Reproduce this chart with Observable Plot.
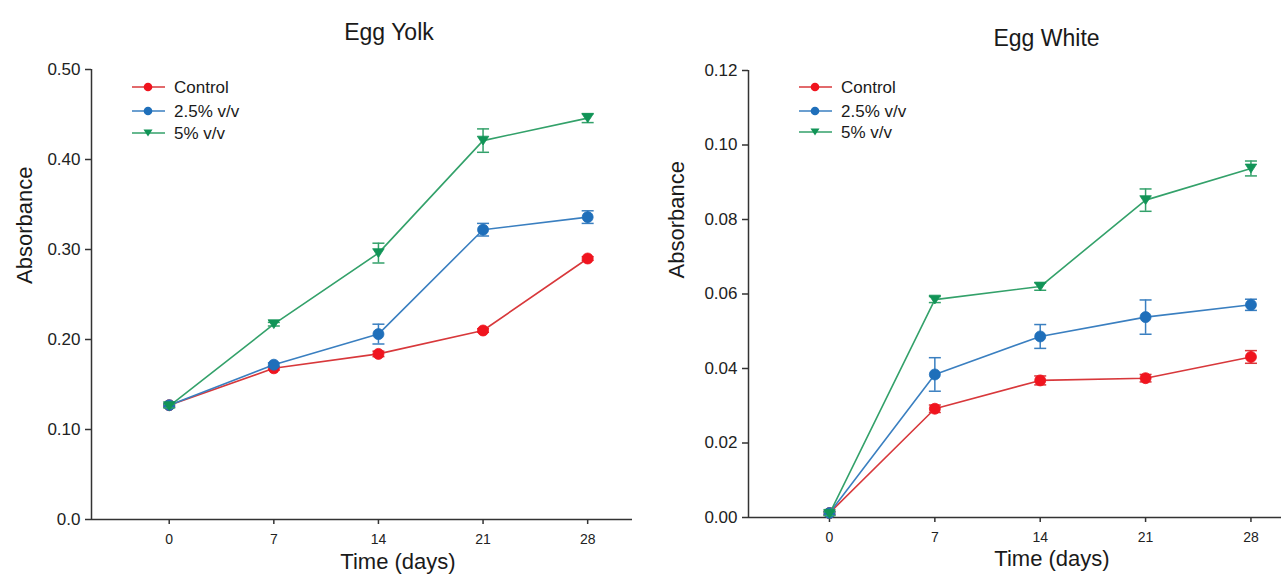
<!DOCTYPE html>
<html><head><meta charset="utf-8">
<script src="https://cdn.jsdelivr.net/npm/d3@7"></script>
<script src="https://cdn.jsdelivr.net/npm/@observablehq/plot@0.6"></script>
<style>
body{margin:0;background:#fff;}
#wrap{position:relative;width:1281px;height:577px;overflow:hidden;font-family:"Liberation Sans",Arial,sans-serif;}
.panel{position:absolute;top:0;}
.legend{position:absolute;top:0;}
</style></head><body><div id="wrap"></div>
<script>
// ---------- data ----------
const days = [0, 7, 14, 21, 28];
const dayLabels = ["0", "7", "14", "21", "28"];
const seriesNames = ["Control", "2.5% v/v", "5% v/v"];
const lineColors = ["#d8383b", "#3a7fc0", "#33a16a"];
const markerColors = ["#f0141e", "#1f6fba", "#119457"];
const markerShapes = ["circle", "circle", "triangleDown"];

// Egg Yolk (absorbance, mean and error)
const yolkControl    = [0.127, 0.168, 0.184, 0.210, 0.290];
const yolkControlErr = [0.002, 0.002, 0.003, 0.002, 0.002];
const yolk25         = [0.127, 0.172, 0.206, 0.322, 0.336];
const yolk25Err      = [0.002, 0.002, 0.011, 0.007, 0.007];
const yolk5          = [0.126, 0.217, 0.296, 0.421, 0.446];
const yolk5Err       = [0.002, 0.002, 0.011, 0.013, 0.005];
const yolkTicks      = [0, 0.1, 0.2, 0.3, 0.4, 0.5];
const yolkTickLabels = ["0.0", "0.10", "0.20", "0.30", "0.40", "0.50"];

// Egg White
const whiteControl    = [0.0012, 0.0292, 0.0368, 0.0374, 0.0431];
const whiteControlErr = [0.0005, 0.0010, 0.0012, 0.0010, 0.0017];
const white25         = [0.0012, 0.0384, 0.0486, 0.0538, 0.0571];
const white25Err      = [0.0005, 0.0045, 0.0032, 0.0046, 0.0015];
const white5          = [0.0010, 0.0585, 0.0620, 0.0852, 0.0937];
const white5Err       = [0.0005, 0.0008, 0.0010, 0.0030, 0.0020];
const whiteTicks      = [0, 0.02, 0.04, 0.06, 0.08, 0.10, 0.12];
const whiteTickLabels = ["0.00", "0.02", "0.04", "0.06", "0.08", "0.10", "0.12"];

// ---------- symbols ----------
const capSymbol = {draw(ctx, size) { ctx.moveTo(-6, 0); ctx.lineTo(6, 0); }};
const triDown = {draw(ctx, size) {
  const r = Math.sqrt(size / Math.PI);
  const w = r * 1.05, h = r * 0.8;
  ctx.moveTo(-w, -h); ctx.lineTo(w, -h); ctx.lineTo(0, h); ctx.closePath();
}};
function sym(name) { return name === "triangleDown" ? triDown : name; }

const FONT = '"Liberation Sans", Arial, sans-serif';
const wrap = document.getElementById("wrap");

function panel(cfg) {
  const marks = [];
  // axis lines
  marks.push(Plot.ruleY([cfg.yDomain[0]], {stroke: "#333", strokeWidth: 1.5}));
  marks.push(Plot.ruleX([cfg.xDomain[0]], {y1: cfg.yDomain[0], y2: cfg.yTicks[cfg.yTicks.length - 1], stroke: "#333", strokeWidth: 1.5}));
  marks.push(Plot.axisY({ticks: cfg.yTicks, tickFormat: d => cfg.yTickLabels[cfg.yTicks.indexOf(d)],
    tickSize: 6, tickPadding: 5, fontSize: 17, label: null, stroke: "#333", strokeWidth: 1.5, fill: "#222"}));
  marks.push(Plot.axisX({ticks: days, tickFormat: d => dayLabels[days.indexOf(d)],
    tickSize: 5, tickPadding: 10, fontSize: 14, label: null, stroke: "#333", strokeWidth: 1.5, fill: "#222"}));

  cfg.series.forEach((vals, s) => {
    const rows = vals.map((v, i) => ({day: days[i], value: v, err: cfg.errs[s][i]}));
    marks.push(Plot.line(rows, {x: "day", y: "value", stroke: lineColors[s], strokeWidth: 1.6}));
    marks.push(Plot.ruleX(rows, {x: "day", y1: d => d.value - d.err, y2: d => d.value + d.err, stroke: lineColors[s], strokeWidth: 1.5}));
    marks.push(Plot.dot(rows, {x: "day", y: d => d.value + d.err, symbol: capSymbol, stroke: lineColors[s], strokeWidth: 1.5, fill: "none", r: 3}));
    marks.push(Plot.dot(rows, {x: "day", y: d => d.value - d.err, symbol: capSymbol, stroke: lineColors[s], strokeWidth: 1.5, fill: "none", r: 3}));
    marks.push(Plot.dot(rows, {x: "day", y: "value", symbol: sym(markerShapes[s]), r: 5.5, fill: markerColors[s], stroke: markerColors[s], strokeWidth: 0.8}));
  });

  marks.push(Plot.text([cfg.title], {frameAnchor: "top", text: d => d, dx: cfg.titleDx, dy: cfg.titleDy, fontSize: 23, fill: "#1a1a1a"}));
  marks.push(Plot.text(["Absorbance"], {frameAnchor: "left", text: d => d, rotate: -90, dx: cfg.yLabelDx, dy: cfg.yLabelDy, fontSize: 22, fill: "#1a1a1a"}));
  marks.push(Plot.text(["Time (days)"], {frameAnchor: "bottom", text: d => d, dx: cfg.xLabelDx, dy: cfg.xLabelDy, fontSize: 22, fill: "#1a1a1a"}));

  const svg = Plot.plot({
    width: cfg.width, height: 577,
    marginLeft: cfg.marginLeft, marginRight: cfg.marginRight, marginTop: cfg.marginTop, marginBottom: cfg.marginBottom,
    x: {domain: cfg.xDomain, axis: null},
    y: {domain: cfg.yDomain, axis: null},
    style: {fontFamily: FONT, color: "#333", background: "transparent", overflow: "visible"},
    marks
  });
  const div = document.createElement("div");
  div.className = "panel";
  div.style.left = cfg.left + "px";
  div.appendChild(svg);
  wrap.appendChild(div);
}

function legend(x0, rowsY) {
  const svg = d3.create("svg").attr("class", "legend").attr("width", 260).attr("height", 160)
    .style("left", x0 + "px").style("position", "absolute").style("top", "0px");
  seriesNames.forEach((name, s) => {
    const y = rowsY[s];
    svg.append("line").attr("x1", 0).attr("x2", 33).attr("y1", y).attr("y2", y)
      .attr("stroke", lineColors[s]).attr("stroke-width", 1.6);
    const shape = markerShapes[s] === "triangleDown" ? triDown : d3.symbolCircle;
    svg.append("path").attr("d", d3.symbol(shape, Math.PI * 4.3 * 4.3)())
      .attr("transform", `translate(16,${y})`).attr("fill", markerColors[s]);
    svg.append("text").attr("x", 42).attr("y", y).attr("dy", "0.35em")
      .attr("font-family", FONT).attr("font-size", 17).attr("fill", "#1a1a1a").text(name);
  });
  wrap.appendChild(svg.node());
}

panel({
  left: 0, width: 640, marginLeft: 91, marginRight: 8, marginTop: 69, marginBottom: 58,
  xDomain: [-5.2, 31.0], yDomain: [0, 0.5], yTicks: yolkTicks, yTickLabels: yolkTickLabels,
  series: [yolkControl, yolk25, yolk5], errs: [yolkControlErr, yolk25Err, yolk5Err],
  title: "Egg Yolk", titleDx: 27, titleDy: -45.5,
  yLabelDx: -67, yLabelDy: -10.5, xLabelDx: 36, xLabelDy: 49
});
panel({
  left: 640, width: 641, marginLeft: 108, marginRight: 0, marginTop: 70, marginBottom: 60,
  xDomain: [-5.38, 30.03], yDomain: [0, 0.12], yTicks: whiteTicks, yTickLabels: whiteTickLabels,
  series: [whiteControl, white25, white5], errs: [whiteControlErr, white25Err, white5Err],
  title: "Egg White", titleDx: 31.5, titleDy: -41,
  yLabelDx: -72, yLabelDy: -15.5, xLabelDx: 37, xLabelDy: 48
});
legend(132, [87, 111, 133]);
legend(799, [87, 111, 132]);
</script></body></html>
